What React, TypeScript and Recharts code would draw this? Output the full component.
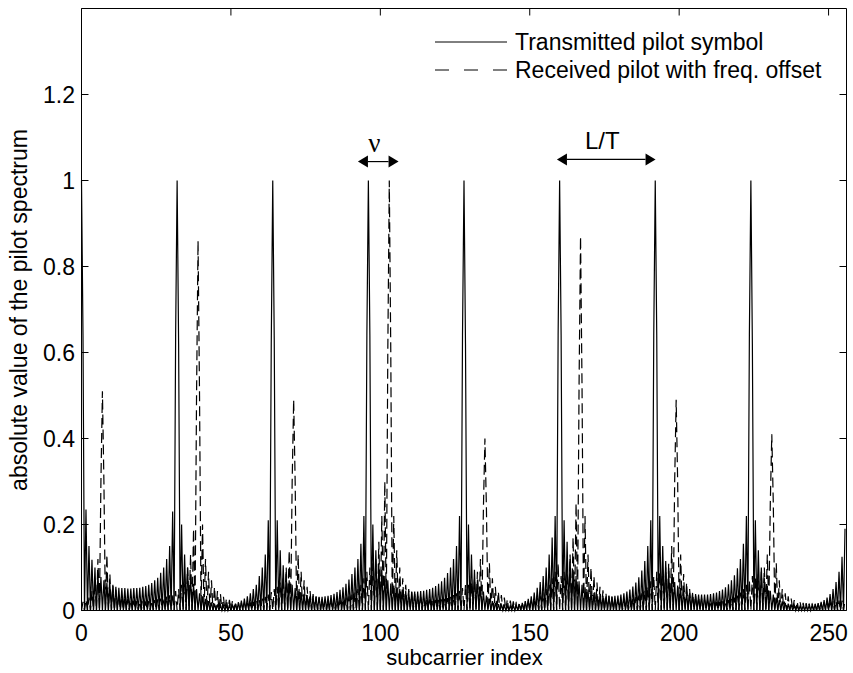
import React from 'react';
import { LineChart, Line, XAxis, YAxis, Legend, ReferenceLine } from 'recharts';

// main lobes: subcarrier index and height
const txPeakIdx = [0, 32, 64, 96, 128, 160, 192, 224];
const txPeakVal = [1, 1, 1, 1, 1, 1, 1, 1];
const rxPeakIdx = [7, 39, 71, 103, 135, 167, 199, 231];
const rxPeakVal = [0.51, 0.86, 0.49, 1.0, 0.4, 0.87, 0.49, 0.41];

// side lobes at the half bins (k + 0.5), one row per block of 32 subcarriers
const txLobes = [
  [0.64, 0.235, 0.15, 0.118, 0.1, 0.088, 0.078, 0.07, 0.065, 0.06, 0.057, 0.055, 0.053, 0.052, 0.052, 0.051, 0.051, 0.052, 0.052, 0.053, 0.055, 0.057, 0.06, 0.064, 0.07, 0.076, 0.088, 0.1, 0.12, 0.15, 0.23, 0.64],
  [0.62, 0.2, 0.13, 0.1, 0.078, 0.062, 0.05, 0.04, 0.033, 0.027, 0.022, 0.019, 0.016, 0.014, 0.013, 0.012, 0.012, 0.013, 0.014, 0.016, 0.019, 0.023, 0.028, 0.033, 0.04, 0.05, 0.06, 0.08, 0.1, 0.13, 0.21, 0.62],
  [0.63, 0.21, 0.14, 0.105, 0.085, 0.07, 0.06, 0.052, 0.046, 0.042, 0.039, 0.036, 0.034, 0.033, 0.032, 0.032, 0.032, 0.033, 0.034, 0.036, 0.039, 0.043, 0.048, 0.054, 0.062, 0.072, 0.085, 0.1, 0.12, 0.155, 0.22, 0.64],
  [0.64, 0.2, 0.14, 0.11, 0.095, 0.08, 0.07, 0.063, 0.058, 0.054, 0.05, 0.048, 0.046, 0.045, 0.044, 0.044, 0.044, 0.045, 0.046, 0.048, 0.05, 0.053, 0.057, 0.062, 0.068, 0.076, 0.087, 0.1, 0.12, 0.15, 0.22, 0.64],
  [0.62, 0.2, 0.13, 0.095, 0.072, 0.056, 0.044, 0.035, 0.028, 0.022, 0.018, 0.015, 0.013, 0.012, 0.011, 0.011, 0.012, 0.013, 0.015, 0.018, 0.022, 0.027, 0.033, 0.042, 0.053, 0.066, 0.08, 0.1, 0.13, 0.17, 0.22, 0.64],
  [0.64, 0.21, 0.16, 0.12, 0.095, 0.08, 0.068, 0.06, 0.054, 0.049, 0.045, 0.041, 0.038, 0.036, 0.034, 0.033, 0.033, 0.033, 0.034, 0.035, 0.037, 0.04, 0.044, 0.049, 0.056, 0.065, 0.077, 0.093, 0.115, 0.15, 0.21, 0.64],
  [0.64, 0.22, 0.15, 0.115, 0.092, 0.077, 0.066, 0.058, 0.052, 0.047, 0.044, 0.041, 0.039, 0.038, 0.037, 0.037, 0.037, 0.037, 0.038, 0.04, 0.042, 0.045, 0.049, 0.054, 0.061, 0.07, 0.082, 0.098, 0.12, 0.155, 0.22, 0.64],
  [0.62, 0.21, 0.14, 0.1, 0.075, 0.058, 0.046, 0.037, 0.03, 0.025, 0.021, 0.018, 0.016, 0.014, 0.013, 0.012, 0.011, 0.011, 0.011, 0.012, 0.013, 0.015, 0.017, 0.02, 0.024, 0.03, 0.038, 0.05, 0.066, 0.09, 0.125, 0.19],
];

const rxLobes = [
  [0.02, 0.025, 0.03, 0.045, 0.07, 0.12, 0.3, 0.3, 0.13, 0.085, 0.06, 0.048, 0.04, 0.034, 0.03, 0.027, 0.025, 0.023, 0.022, 0.021, 0.021, 0.021, 0.022, 0.023, 0.024, 0.026, 0.028, 0.03, 0.033, 0.036, 0.04, 0.045],
  [0.05, 0.06, 0.075, 0.1, 0.13, 0.19, 0.5, 0.5, 0.2, 0.12, 0.09, 0.07, 0.055, 0.045, 0.038, 0.032, 0.028, 0.025, 0.022, 0.02, 0.019, 0.018, 0.018, 0.018, 0.019, 0.02, 0.022, 0.025, 0.028, 0.032, 0.037, 0.043],
  [0.05, 0.055, 0.065, 0.08, 0.1, 0.14, 0.3, 0.3, 0.13, 0.09, 0.07, 0.055, 0.045, 0.038, 0.033, 0.03, 0.027, 0.025, 0.024, 0.023, 0.023, 0.024, 0.025, 0.027, 0.03, 0.033, 0.037, 0.042, 0.05, 0.06, 0.075, 0.09],
  [0.1, 0.11, 0.12, 0.16, 0.22, 0.3, 0.6, 0.6, 0.22, 0.14, 0.1, 0.075, 0.06, 0.05, 0.043, 0.038, 0.034, 0.031, 0.029, 0.027, 0.026, 0.025, 0.025, 0.025, 0.026, 0.027, 0.029, 0.032, 0.036, 0.04, 0.046, 0.052],
  [0.06, 0.06, 0.065, 0.075, 0.09, 0.12, 0.24, 0.24, 0.11, 0.075, 0.055, 0.044, 0.036, 0.03, 0.026, 0.023, 0.021, 0.02, 0.019, 0.019, 0.02, 0.021, 0.023, 0.026, 0.03, 0.035, 0.042, 0.05, 0.06, 0.075, 0.09, 0.11],
  [0.08, 0.09, 0.1, 0.13, 0.17, 0.25, 0.52, 0.52, 0.22, 0.13, 0.1, 0.08, 0.065, 0.055, 0.047, 0.04, 0.035, 0.031, 0.028, 0.026, 0.025, 0.025, 0.025, 0.026, 0.028, 0.031, 0.035, 0.04, 0.047, 0.056, 0.068, 0.08],
  [0.09, 0.09, 0.095, 0.1, 0.11, 0.15, 0.3, 0.3, 0.13, 0.085, 0.065, 0.05, 0.042, 0.036, 0.031, 0.028, 0.025, 0.023, 0.022, 0.021, 0.02, 0.02, 0.021, 0.022, 0.024, 0.027, 0.03, 0.035, 0.042, 0.05, 0.06, 0.07],
  [0.08, 0.08, 0.085, 0.09, 0.1, 0.13, 0.25, 0.25, 0.11, 0.07, 0.05, 0.04, 0.033, 0.028, 0.024, 0.021, 0.019, 0.018, 0.017, 0.016, 0.016, 0.016, 0.017, 0.018, 0.019, 0.02, 0.021, 0.022, 0.022, 0.023, 0.023, 0.024],
];

const xTicks = [0, 50, 100, 150, 200, 250];
const yTicks = [0, 0.2, 0.4, 0.6, 0.8, 1, 1.2];
const yTickLabels = ['0', '0.2', '0.4', '0.6', '0.8', '1', '1.2'];
const xMax = 256;
const yMax = 1.4;

// annotation arrows (data units)
const nuArrow = { x1: 92.5, x2: 106.1, y: 1.044, text: 'ν' };
const ltArrow = { x1: 159.1, x2: 192.1, y: 1.049, text: 'L/T' };

// every bin gets a null at the integer index (or its main lobe) and a side lobe half a bin later
const rows: { x: number; tx: number; rx: number }[] = [];
txLobes.forEach((block, b) =>
  block.forEach((lobe, j) => {
    const k = b * 32 + j;
    const ti = txPeakIdx.indexOf(k);
    const ri = rxPeakIdx.indexOf(k);
    rows.push({ x: k, tx: ti >= 0 ? txPeakVal[ti] : 0, rx: ri >= 0 ? rxPeakVal[ri] : 0 });
    rows.push({ x: k + 0.5, tx: lobe, rx: rxLobes[b][j] });
  })
);

const FONT = '"Liberation Sans", Arial, Helvetica, sans-serif';
const FS = 23;
const TICK = 7;
// plot box edges in px, half-pixel so the 1px frame stays crisp
const PLOT_TOP = 8.5;
const PLOT_RIGHT = 846.5;

// MATLAB style: ticks point inward and are mirrored on the opposite side of the box
const BottomTick = ({ x, y, payload }: any) => (
  <g>
    <line x1={x} y1={y} x2={x} y2={y - TICK} stroke="#000" />
    <line x1={x} y1={PLOT_TOP} x2={x} y2={PLOT_TOP + TICK} stroke="#000" />
    <text x={x} y={y + 30.5} textAnchor="middle" fontSize={FS} fontFamily={FONT} fill="#000">
      {payload.value}
    </text>
  </g>
);

const LeftTick = ({ x, y, payload }: any) => (
  <g>
    <line x1={x} y1={y} x2={x + TICK} y2={y} stroke="#000" />
    <line x1={PLOT_RIGHT} y1={y} x2={PLOT_RIGHT - TICK} y2={y} stroke="#000" />
    <text x={x - 6.5} y={y + 8.5} textAnchor="end" fontSize={FS} fontFamily={FONT} fill="#000">
      {yTickLabels[yTicks.indexOf(payload.value)]}
    </text>
  </g>
);

const XLabel = () => (
  <text x={464.5} y={665} textAnchor="middle" fontSize={22} fontFamily={FONT} fill="#000">
    subcarrier index
  </text>
);

const YLabel = () => (
  <text
    x={27}
    y={310}
    transform="rotate(-90, 27, 310)"
    textAnchor="middle"
    fontSize={FS}
    fontFamily={FONT}
    fill="#000"
  >
    absolute value of the pilot spectrum
  </text>
);

const LegendBox = () => (
  <svg width={420} height={60} style={{ display: 'block' }}>
    <line x1={5} y1={14} x2={77} y2={14} stroke="#000" />
    <text x={85} y={22} fontSize={FS} fontFamily={FONT} fill="#000">
      Transmitted pilot symbol
    </text>
    <line x1={5} y1={42} x2={77} y2={42} stroke="#000" strokeDasharray="14 15" />
    <text x={85} y={50} fontSize={FS} fontFamily={FONT} fill="#000">
      Received pilot with freq. offset
    </text>
  </svg>
);

const arrowShape = (text: string, serif: boolean) => (p: any) => {
  const { x1, y1, x2, y2 } = p;
  const h = 10;
  const w = 6;
  return (
    <g>
      <line x1={x1 + h} y1={y1} x2={x2 - h} y2={y2} stroke="#000" strokeWidth={1.2} />
      <polygon points={`${x1},${y1} ${x1 + h},${y1 - w} ${x1 + h},${y1 + w}`} fill="#000" />
      <polygon points={`${x2},${y2} ${x2 - h},${y2 - w} ${x2 - h},${y2 + w}`} fill="#000" />
      <text
        x={(x1 + x2) / 2 - 4}
        y={y1 - 10}
        textAnchor="middle"
        fontSize={serif ? 27 : 24}
        fontFamily={serif ? '"Liberation Serif", "DejaVu Serif", serif' : FONT}
        fill="#000"
      >
        {text}
      </text>
    </g>
  );
};

export default function App() {
  return (
    <div style={{ position: 'absolute', left: 0, top: 0, background: '#fff' }}>
      <LineChart width={853} height={673} data={rows} margin={{ top: 8.5, right: 6.5, bottom: 0, left: 0 }}>
        <XAxis
          dataKey="x"
          type="number"
          domain={[0, xMax]}
          ticks={xTicks}
          interval={0}
          height={62.5}
          tickSize={0}
          tickMargin={0}
          tickLine={false}
          tick={BottomTick}
          axisLine={{ stroke: '#000' }}
          label={<XLabel />}
        />
        <YAxis
          type="number"
          domain={[0, yMax]}
          ticks={yTicks}
          interval={0}
          width={81.5}
          tickSize={0}
          tickMargin={0}
          tickLine={false}
          tick={LeftTick}
          axisLine={{ stroke: '#000' }}
          label={<YLabel />}
        />
        <Line
          dataKey="tx"
          type="linear"
          stroke="#000"
          strokeWidth={1.2}
          dot={false}
          activeDot={false}
          isAnimationActive={false}
        />
        <Line
          dataKey="rx"
          type="linear"
          stroke="#000"
          strokeWidth={1.2}
          strokeDasharray="10 5"
          dot={false}
          activeDot={false}
          isAnimationActive={false}
        />
        {/* box: top and right edges */}
        <ReferenceLine y={yMax} stroke="#000" strokeWidth={1} ifOverflow="visible" />
        <ReferenceLine x={xMax} stroke="#000" strokeWidth={1} ifOverflow="visible" />
        <ReferenceLine
          segment={[{ x: nuArrow.x1, y: nuArrow.y }, { x: nuArrow.x2, y: nuArrow.y }]}
          shape={arrowShape(nuArrow.text, true)}
        />
        <ReferenceLine
          segment={[{ x: ltArrow.x1, y: ltArrow.y }, { x: ltArrow.x2, y: ltArrow.y }]}
          shape={arrowShape(ltArrow.text, false)}
        />
        <Legend
          layout="vertical"
          align="center"
          verticalAlign="middle"
          content={LegendBox}
          wrapperStyle={{ position: 'absolute', left: 430, top: 28, width: 420, height: 60 }}
        />
      </LineChart>
    </div>
  );
}
